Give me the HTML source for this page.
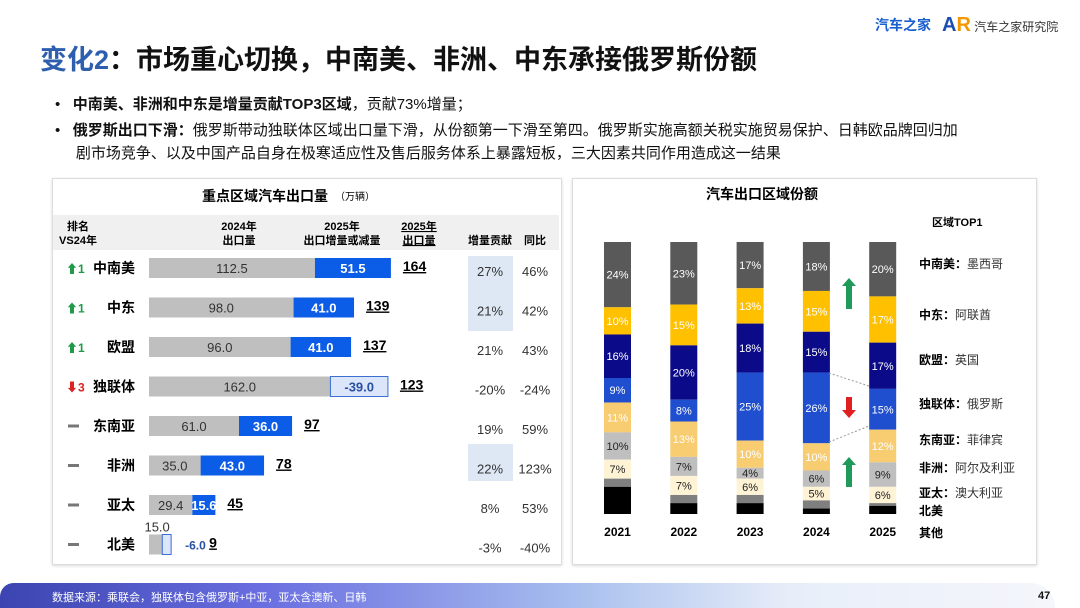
<!DOCTYPE html>
<html><head><meta charset="utf-8">
<style>
body{margin:0;width:1080px;height:608px;background:#fff;position:relative;overflow:hidden;font-family:"Liberation Sans","Noto Sans CJK SC",sans-serif;color:#111}
.abs{position:absolute}
.title{left:40px;top:38px;font-size:27px;font-weight:bold;letter-spacing:0px}
.bul{left:55px;font-size:15px;line-height:23px;width:990px}
.panel{border:1px solid #ddd;box-shadow:0 1px 3px rgba(0,0,0,.15);background:#fff}
svg text{font-family:"Liberation Sans","Noto Sans CJK SC",sans-serif}
</style></head><body>
<div class="abs" style="left:875px;top:15px;font-size:14px;font-weight:bold;color:#1a5fd0">汽车之家</div>
<div class="abs" style="left:942px;top:14px;font-size:20px;font-weight:bold;color:#1a4fb0">A<span style="color:#f39800">R</span><span style="font-size:12px;color:#333;font-weight:normal"> 汽车之家研究院</span></div>
<div class="abs title"><span style="color:#2E5FAF">变化2</span>：市场重心切换，中南美、非洲、中东承接俄罗斯份额</div>
<div class="abs bul" style="top:93px">•&nbsp;&nbsp;&nbsp;<b>中南美、非洲和中东是增量贡献TOP3区域</b>，贡献73%增量；</div>
<div class="abs bul" style="top:119px">•&nbsp;&nbsp;&nbsp;<b>俄罗斯出口下滑：</b>俄罗斯带动独联体区域出口量下滑，从份额第一下滑至第四。俄罗斯实施高额关税实施贸易保护、日韩欧品牌回归加<br>&nbsp;&nbsp;&nbsp;&nbsp;&nbsp;剧市场竞争、以及中国产品自身在极寒适应性及售后服务体系上暴露短板，三大因素共同作用造成这一结果</div>
<div class="abs panel" style="left:52px;top:178px;width:508px;height:385px"></div>
<div class="abs panel" style="left:572px;top:178px;width:463px;height:385px"></div>
<svg class="abs" style="left:0;top:0" width="1080" height="608" id="svg"></svg>
<div class="abs" style="left:0;top:583px;width:1055px;height:25px;border-radius:22px 40px 0 0;background:linear-gradient(90deg,#3b44b0 0%,#6a6ee0 25%,#a9c0ee 55%,#e8eef9 75%,#f4f6fb 100%)"></div>
<div class="abs" style="left:52px;top:589px;font-size:11px;color:#fff">数据来源：乘联会，独联体包含俄罗斯+中亚，亚太含澳新、日韩</div>
<div class="abs" style="left:1038px;top:590px;font-size:11px;font-weight:bold">47</div>
<script>
const regions=["中南美","中东","欧盟","独联体","东南亚","非洲","亚太","北美"];
const rankChange=[1,1,1,-3,0,0,0,0];
const export2024=[112.5,98.0,96.0,162.0,61.0,35.0,29.4,15.0];
const delta2025=[51.5,41.0,41.0,-39.0,36.0,43.0,15.6,-6.0];
const total2025=[164,139,137,123,97,78,45,9];
const contrib=["27%","21%","21%","-20%","19%","22%","8%","-3%"];
const yoy=["46%","42%","43%","-24%","59%","123%","53%","-40%"];

const years=["2021","2022","2023","2024","2025"];
const shareNames=["中南美","中东","欧盟","独联体","东南亚","非洲","亚太","北美","其他"];
const shareTop1=["墨西哥","阿联酋","英国","俄罗斯","菲律宾","阿尔及利亚","澳大利亚","",""];
const s2021=[24,10,16,9,11,10,7,3,10];
const s2022=[23,15,20,8,13,7,7,3,4];
const s2023=[17,13,18,25,10,4,6,3,4];
const s2024=[18,15,15,26,10,6,5,3,2];
const s2025=[20,17,17,15,12,9,6,1,3];
const shares=[s2021,s2022,s2023,s2024,s2025];

const NS="http://www.w3.org/2000/svg";
const svg=document.getElementById('svg');
function mk(t,a,txt){const e=document.createElementNS(NS,t);for(const k in a)e.setAttribute(k,a[k]);if(txt!==undefined)e.textContent=txt;svg.appendChild(e);return e;}

let t=mk('text',{x:265,y:201,'font-size':14,'font-weight':'bold','text-anchor':'middle'},'重点区域汽车出口量');

t=mk('text',{x:335,y:200,'font-size':10},'（万辆）');

let hb=mk('rect',{x:53,y:215,width:506,height:35,fill:'#f0f0f0'});

const hdr=[[78,"排名","VS24年"],[239,"2024年","出口量"],[342,"2025年","出口增量或减量"],[419,"2025年","出口量"],[490,"","增量贡献"],[535,"","同比"]];
hdr.forEach((h,i)=>{
 const a=mk('text',{x:h[0],y:230,'font-size':11,'font-weight':'bold','text-anchor':'middle'},h[1]);
 
 const b=mk('text',{x:h[0],y:244,'font-size':11,'font-weight':'bold','text-anchor':'middle'},h[2]);
 
 if(i==3){b.setAttribute('text-decoration','underline');a.setAttribute('text-decoration','underline');}
});
const x0=149, sc=1.475;
const xs=v=>x0+v*sc;
const rowY=i=>268+i*39.5;
let hl=mk('rect',{x:468,y:256,width:45,height:75,fill:'#dde8f4'});

hl=mk('rect',{x:468,y:444,width:45,height:37,fill:'#dde8f4'});

regions.forEach((r,i)=>{
 const y=rowY(i);
 const rc=rankChange[i];
 let e;
 if(rc>0){e=mk('text',{x:66,y:y+5,'font-size':12,fill:'#1f9a4a','font-weight':'bold'},'⬆'+rc);}
 else if(rc<0){e=mk('text',{x:66,y:y+5,'font-size':12,fill:'#d22','font-weight':'bold'},'⬇'+(-rc));}
 else{e=mk('rect',{x:68,y:y-1.5,width:11,height:3,fill:'#777'});}
 
 e=mk('text',{x:135,y:y+5,'font-size':14,'font-weight':'bold','text-anchor':'end'},r);
 
 const d=delta2025[i], v=export2024[i];
 const base=d<0?v+d:v;
 e=mk('rect',{x:x0,y:y-10,width:base*sc,height:20,fill:'#bfbfbf'});
 
 e=mk('text',{x:x0+base*sc/2,y:y+5,'font-size':13,'text-anchor':'middle',fill:'#333'},v.toFixed(1));
 
 if(i==7){e.setAttribute('x',xs(v)-14);e.setAttribute('y',y-13);}
 let end;
 if(d>=0){
  e=mk('rect',{x:xs(base),y:y-10,width:d*sc,height:20,fill:'#0b5ce6'});
  
  e=mk('text',{x:xs(base)+d*sc/2,y:y+5,'font-size':13,'font-weight':'bold','text-anchor':'middle',fill:'#fff'},d.toFixed(1));
  
  end=xs(base+d);
 } else {
  e=mk('rect',{x:xs(base),y:y-10,width:-d*sc,height:20,fill:'#dce6fa',stroke:'#3b6fd0','stroke-width':1});
  
  if(i==7){
   e=mk('text',{x:xs(v)+14,y:y+5,'font-size':12,'font-weight':'bold',fill:'#2850a0'},d.toFixed(1));
   end=xs(v)+44;
  } else {
   e=mk('text',{x:xs(base)-d*sc/2,y:y+5,'font-size':13,'font-weight':'bold','text-anchor':'middle',fill:'#2850a0'},d.toFixed(1));
   end=xs(v);
  }
  
 }
 e=mk('text',{x:end+12,y:y+3,'font-size':14,'font-weight':'bold','text-decoration':'underline'},total2025[i]);
 if(i==7)e.setAttribute('x',end-6);
 
 e=mk('text',{x:490,y:y+8,'font-size':13,'text-anchor':'middle',fill:'#333'},contrib[i]);
 
 e=mk('text',{x:535,y:y+8,'font-size':13,'text-anchor':'middle',fill:'#333'},yoy[i]);
 
});

t=mk('text',{x:762,y:199,'font-size':14,'font-weight':'bold','text-anchor':'middle'},'汽车出口区域份额');

t=mk('text',{x:932,y:226,'font-size':11,'font-weight':'bold'},'区域TOP1');

const colors=['#595959','#ffc000','#0b0b8a','#1f4fcf','#f8cc70','#bfbfbf','#fff3d6','#7f7f7f','#000'];
const txtCol=['#fff','#fff','#fff','#fff','#fff','#222','#222','#fff','#fff'];
const barTop=242, barH=272, barW=27;
const bx=j=>604+j*66.3;
years.forEach((yr,j)=>{
 let y=barTop;
 const tot=shares[j].reduce((a,b)=>a+b,0);
 shares[j].forEach((p,k)=>{
  const h=p/tot*barH;
  let e=mk('rect',{x:bx(j),y:y,width:barW,height:h,fill:colors[k]});
  
  if(k<7){
   e=mk('text',{x:bx(j)+barW/2,y:y+h/2+4,'font-size':11,'text-anchor':'middle',fill:txtCol[k]},p+'%');
   
  }
  y+=h;
 });
 const e=mk('text',{x:bx(j)+barW/2,y:536,'font-size':12,'font-weight':'bold','text-anchor':'middle'},yr);
 
});
const ly=[268,319,364,408,444,472,497,515,537];
shareNames.forEach((n,k)=>{
 const e=mk('text',{x:919,y:ly[k],'font-size':12});
 const b=document.createElementNS(NS,'tspan');b.setAttribute('font-weight','bold');b.textContent=n+(shareTop1[k]?'：':'');e.appendChild(b);
 const s=document.createElementNS(NS,'tspan');s.setAttribute('fill','#333');s.textContent=shareTop1[k];e.appendChild(s);
 
});
function arrow(x,y1,y2,c,nm){const dir=y2>y1?1:-1;const g=mk('path',{d:`M${x-3},${y1} L${x+3},${y1} L${x+3},${y2-dir*8} L${x+7},${y2-dir*8} L${x},${y2} L${x-7},${y2-dir*8} L${x-3},${y2-dir*8} Z`,fill:c});}
arrow(849,309,278,'#1f9a5a','up-arrow-latam');
arrow(849,397,418,'#e02020','down-arrow-cis');
arrow(849,487,457,'#1f9a5a','up-arrow-africa');
let dl=mk('line',{x1:829,y1:373,x2:869,y2:386,stroke:'#999','stroke-dasharray':'2,2'});

dl=mk('line',{x1:829,y1:442,x2:869,y2:426,stroke:'#999','stroke-dasharray':'2,2'});

</script>
</body></html>
